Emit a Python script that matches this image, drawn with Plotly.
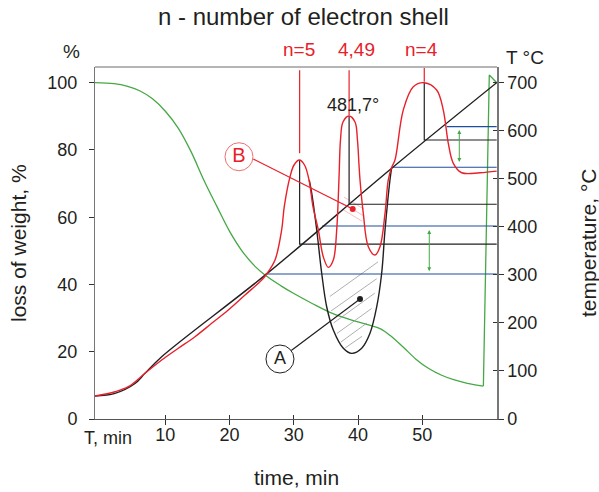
import plotly.graph_objects as go

# ---------------- data ----------------
# temperature programme (black), time in min, temperature in °C
temp_time = [-0.95, 2.16, 5.28, 6.83, 9.43, 25.77, 45.23, 61.57]
temp_vals = [48, 53.5, 74, 95, 129.7, 302, 522, 700]

# red curve (electron shell signal) on temperature scale
red_time = [-0.95, 2.16, 4.23, 6.83, 9.43, 12.02, 14.61, 17.21, 19.80, 22.40, 25.0, 25.77, 27.07,
            28.1, 28.51, 29.4, 30.03, 30.85, 31.66, 32.36, 32.98, 33.81, 34.58, 35.36, 36.14,
            36.67, 36.92, 37.07, 37.26, 37.65, 38.58, 39.52, 39.9, 40.14, 40.3, 40.81, 41.59,
            42.63, 43.41, 44.19, 44.7, 45.23, 45.74, 47.03, 48.59, 50.3, 52.23, 53.26, 54.04,
            54.82, 56.12, 58.97, 61.57]
red_vals = [48, 56.8, 67.2, 95.1, 122.8, 147.2, 171.3, 199.2, 226.9, 258.1, 289.3, 301.8, 330.9,
            393.4, 441.9, 504, 528.7, 539, 528.7, 497.5, 441.9, 393.4, 337.8, 315.7, 330.9,
            393.4, 462.7, 518, 580.7, 618.2, 630.7, 618.2, 580.7, 528.7, 497.5, 428.1, 358.6,
            341.3, 358.6, 428.1, 497.5, 523.9, 539, 643, 691.6, 700, 684.8, 643, 573.8,
            532.2, 512.6, 512.6, 516]

# green curve: loss of weight, %
loss_time = [-0.95, 2, 4, 6, 8, 10, 12, 14, 16, 18, 20, 22, 24, 25.5, 28, 30, 33, 36, 39,
             42, 43.5, 45, 47, 49, 51, 53, 55, 57, 59.5]
loss_vals = [100, 99.7, 99.0, 97.6, 95.2, 91.5, 86.5, 79.5, 71.0, 63.3, 55.8, 49.8, 45.3,
             42.8, 39.6, 37.3, 34.2, 31.4, 29.4, 27.8, 26.8, 24.8, 21.4, 17.8, 15.0, 13.0,
             11.6, 10.6, 9.8]
loss_tail_time = [59.5, 60.42, 61.57]
loss_tail_vals = [9.8, 102.3, 100]

# black U-shaped curve "A"
a_time = [32.4, 32.78, 33.56, 34.33, 35.11, 36.14, 37.70, 39.0, 40.56, 41.85, 42.9, 43.67,
          44.19, 44.96, 45.23]
a_vals = [497, 470, 393.4, 303.9, 233.7, 185.2, 147.2, 136.7, 147.2, 178.4, 233.7, 303.3,
          393.4, 497.5, 523.9]

# hatching inside "A"
hatch_t0 = [35.6, 35.8, 36.2, 36.7, 37.3, 38.0]
hatch_T0 = [255, 225, 200, 178, 160, 148]
hatch_t1 = [43.1, 42.9, 42.6, 42.1, 41.4, 40.6]
hatch_T1 = [327, 292, 262, 230, 200, 172]

# light red hatching near point B
pink_t0 = [37.8, 37.5, 37.5]
pink_T0 = [462, 449.6, 437]
pink_t1 = [40.9, 40.9, 40.6]
pink_T1 = [437, 422.5, 412]

# peaks: time, peak temperature, level of horizontal line
peak_time = [30.9, 38.6, 50.3]
peak_temp = [539, 631, 700]
peak_level = [364, 447, 580.7]
peak_labels = ["n=5", "4,49", "n=4"]
peak_label_time = [30.8, 39.7, 49.9]
red_mark_top = [726, 726, 733]
red_mark_bottom = [553, 633, 702]

# blue levels
blue_level = [301.8, 401.7, 524, 608.4]
blue_start = [25.6, 34.4, 45.3, 53.8]

# green arrows (time, T from, T to)
arrow_time = [55.75, 51.08]
arrow_T0 = [532, 304.5]
arrow_T1 = [601.5, 393.4]

# points A, B
pointA = (40.3, 249.8)
pointA_line = (29.6, 142.4)
circleA = (27.84, 124.9)
pointB = (39.16, 437.1)
pointB_line = (23.7, 541.1)
circleB = (21.46, 545.9)

x_ticks = [10, 20, 30, 40, 50]
y_ticks = [0, 20, 40, 60, 80, 100]
t_ticks = [0, 100, 200, 300, 400, 500, 600, 700]

X_RANGE = [-0.95, 61.62]
Y_RANGE = [0, 104.67]
T_RANGE = [0, 732.7]

RED = "#e8202a"
BLACK = "#231f20"
GREEN = "#45a845"
BLUE = "#1f4e9c"
FONT = "Liberation Sans, Arial, sans-serif"

fig = go.Figure()


def seg(x, y, color, width=1.2, yaxis="y2", dash=None, shape="linear"):
    fig.add_trace(go.Scatter(x=x, y=y, mode="lines", yaxis=yaxis, hoverinfo="skip",
                             line=dict(color=color, width=width, dash=dash, shape=shape)))


# hatching
hx, hy = [], []
for a, b, c, d in zip(hatch_t0, hatch_T0, hatch_t1, hatch_T1):
    hx += [a, c, None]
    hy += [b, d, None]
seg(hx, hy, "#9a9a9a", 0.8)
px_, py_ = [], []
for a, b, c, d in zip(pink_t0, pink_T0, pink_t1, pink_T1):
    px_ += [a, c, None]
    py_ += [b, d, None]
seg(px_, py_, "#f4b0b0", 0.8)

# blue levels
bx, by = [], []
for s, lv in zip(blue_start, blue_level):
    bx += [s, temp_time[-1], None]
    by += [lv, lv, None]
seg(bx, by, BLUE, 1.2)

# black peak verticals and horizontals
kx, ky = [], []
for t, pk, lv in zip(peak_time, peak_temp, peak_level):
    kx += [t, t, temp_time[-1], None]
    ky += [pk, lv, lv, None]
seg(kx, ky, BLACK, 1.2)

# red marks above peaks
rx, ry = [], []
for t, a, b in zip(peak_time, red_mark_top, red_mark_bottom):
    rx += [t, t, None]
    ry += [a, b, None]
seg(rx, ry, RED, 1.2)

# curves
seg(loss_time, loss_vals, GREEN, 1.3, yaxis="y", shape="spline")
seg(loss_tail_time, loss_tail_vals, GREEN, 1.3, yaxis="y")
seg(a_time, a_vals, BLACK, 1.4, shape="spline")
seg(temp_time, temp_vals, BLACK, 1.4, shape="spline")
seg(red_time, red_vals, RED, 1.4, shape="spline")

# pointer lines and dots
seg([pointB_line[0], pointB[0]], [pointB_line[1], pointB[1]], RED, 1.3)
seg([pointA_line[0], pointA[0]], [pointA_line[1], pointA[1]], BLACK, 1.2)
fig.add_trace(go.Scatter(x=[pointB[0]], y=[pointB[1]], yaxis="y2", mode="markers",
                         marker=dict(color=RED, size=6), hoverinfo="skip"))
fig.add_trace(go.Scatter(x=[pointA[0]], y=[pointA[1]], yaxis="y2", mode="markers",
                         marker=dict(color=BLACK, size=6), hoverinfo="skip"))
fig.add_trace(go.Scatter(x=[circleA[0]], y=[circleA[1]], yaxis="y2", mode="markers+text",
                         text=["A"], textposition="middle center",
                         textfont=dict(size=18, color=BLACK, family=FONT),
                         marker=dict(color="white", size=28, line=dict(color=BLACK, width=1)),
                         hoverinfo="skip"))
fig.add_trace(go.Scatter(x=[circleB[0]], y=[circleB[1]], yaxis="y2", mode="markers+text",
                         text=["B"], textposition="middle center",
                         textfont=dict(size=20, color=RED, family=FONT),
                         marker=dict(color="white", size=28, line=dict(color="#f07070", width=1)),
                         hoverinfo="skip"))

# invisible trace for the inner-tick overlay axes
fig.add_trace(go.Scatter(x=[None], y=[None], xaxis="x2", yaxis="y3", mode="lines",
                         hoverinfo="skip"))

# green double-headed arrows
for t, a, b in zip(arrow_time, arrow_T0, arrow_T1):
    fig.add_annotation(x=t, y=b, ax=t, ay=a, xref="x", yref="y2", axref="x", ayref="y2",
                       showarrow=True, arrowhead=2, arrowsize=0.8, arrowwidth=1,
                       arrowcolor=GREEN, arrowside="end+start", text="")

# labels
for lab, t in zip(peak_labels, peak_label_time):
    fig.add_annotation(x=t, y=(419 - 50) / 352, xref="x", yref="paper", text=lab,
                       showarrow=False, xanchor="center", yanchor="middle",
                       font=dict(size=19, color=RED))
fig.add_annotation(x=39.2, y=653.6, xref="x", yref="y2", text="481,7°", showarrow=False,
                   xanchor="center", yanchor="middle", font=dict(size=18, color=BLACK))


def pa(px, py, text, size=19, angle=0):
    fig.add_annotation(x=(px - 95) / 402, y=(419 - py) / 352, xref="paper", yref="paper",
                       text=text, showarrow=False, textangle=angle,
                       xanchor="center", yanchor="middle",
                       font=dict(size=size, color=BLACK))


pa(303, 17, "n - number of electron shell", 24)
pa(71.5, 52, "%", 19)
pa(525, 58, "T °C", 19)
pa(108, 438, "T, min", 18)
pa(296, 478, "time, min", 21)
pa(18, 243, "loss of weight, %", 21, -90)
pa(588, 243, "temperature, °C", 21, -90)

# top border
fig.add_shape(type="line", xref="paper", yref="paper", x0=0, x1=1, y0=1, y1=1,
              line=dict(color="#b5b5b5", width=2))

axis_common = dict(showgrid=False, zeroline=False, showline=True, ticks="outside", ticklen=5,
                   automargin=False, tickfont=dict(size=18, color=BLACK))
inner_common = dict(showgrid=False, zeroline=False, showline=False, ticks="inside", ticklen=4,
                    showticklabels=False, automargin=False, tickcolor="#333")
fig.update_layout(
    width=599, height=492, margin=dict(l=95, r=102, t=67, b=73),
    paper_bgcolor="white", plot_bgcolor="white", showlegend=False,
    font=dict(family=FONT, color=BLACK, size=18),
    xaxis=dict(range=X_RANGE, tickvals=x_ticks, linecolor="#555", tickcolor="#333",
               linewidth=1.2, ticklabelstandoff=-6, **axis_common),
    yaxis=dict(range=Y_RANGE, tickvals=y_ticks, linecolor="#777", tickcolor="#333",
               linewidth=1, ticklabelstandoff=8, **axis_common),
    yaxis2=dict(range=T_RANGE, tickvals=t_ticks, overlaying="y", side="right",
                linecolor="#777", tickcolor="#333", linewidth=1.5, ticklabelstandoff=0,
                **axis_common),
    xaxis2=dict(range=X_RANGE, tickvals=x_ticks, overlaying="x", anchor="y3", side="bottom",
                **inner_common),
    yaxis3=dict(range=T_RANGE, tickvals=t_ticks, overlaying="y", anchor="x2", side="right",
                **inner_common),
)

fig.write_html("out.html", config={"displayModeBar": False},
               post_script="document.body.style.margin='0px';")
